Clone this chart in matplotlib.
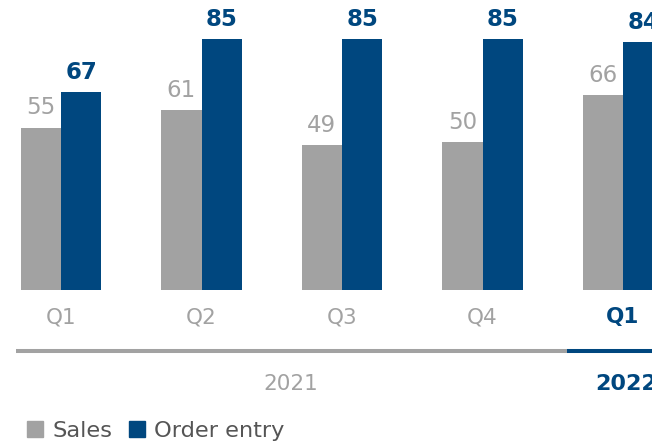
import matplotlib
matplotlib.use('Agg')
import matplotlib.pyplot as plt
from matplotlib.patches import Patch
import numpy as np

plt.rcParams['font.family'] = ['DejaVu Sans']

# data
quarters = ['Q1', 'Q2', 'Q3', 'Q4', 'Q1']
years = ['2021', '2022']
sales = [55, 61, 49, 50, 66]
order_entry = [67, 85, 85, 85, 84]

GRAY = '#a2a2a2'
BLUE = '#00477f'
TEXT = '#555555'

fig = plt.figure(figsize=(6.52, 4.43), dpi=100)
ax = fig.add_axes([0, 0, 1, 1])
ax.axis('off')

x = np.arange(len(quarters))
w = 0.288
bars_s = ax.bar(x - w / 2, sales, w, color=GRAY)
bars_o = ax.bar(x + w / 2, order_entry, w, color=BLUE)

# value labels
for b, v in zip(bars_s, sales):
    ax.annotate(str(v), (b.get_x() + b.get_width() / 2, v), xytext=(0, 9.5),
                textcoords='offset points', ha='center', va='baseline',
                fontsize=16.5, color=GRAY)
for b, v in zip(bars_o, order_entry):
    ax.annotate(str(v), (b.get_x() + b.get_width() / 2, v), xytext=(0, 9.5),
                textcoords='offset points', ha='center', va='baseline',
                fontsize=16.5, color=BLUE, fontweight='semibold')

# quarter labels
for i, q in enumerate(quarters):
    new = i == len(quarters) - 1
    ax.text(i, -11.2, q, ha='center', va='baseline', fontsize=15.5,
            color=BLUE if new else GRAY, fontweight='semibold' if new else 'normal')

# year separator lines
ax.plot([-0.32, 3.60], [-20.7, -20.7], color=GRAY, lw=2.9, solid_capstyle='butt')
ax.plot([3.60, 5], [-20.7, -20.7], color=BLUE, lw=2.9, solid_capstyle='butt')
ax.text(1.635, -33.9, years[0], ha='center', va='baseline', fontsize=15.5, color=GRAY)
ax.text(4.02, -33.9, years[1], ha='center', va='baseline', fontsize=16,
        color=BLUE, fontweight='semibold')

ax.set_xlim(-0.434, 4.206)
ax.set_ylim(-51.8, 98.2)

handles = [Patch(color=GRAY, label='Sales'), Patch(color=BLUE, label='Order entry')]
leg = fig.legend(handles=handles, loc='lower left', bbox_to_anchor=(27 / 652, 0.005),
                 ncol=2, frameon=False, fontsize=16.2, handlelength=0.72,
                 handleheight=0.72, handletextpad=0.42, columnspacing=0.72,
                 borderpad=0, borderaxespad=0)
for t in leg.get_texts():
    t.set_color(TEXT)

fig.savefig('out.png', dpi=100)
